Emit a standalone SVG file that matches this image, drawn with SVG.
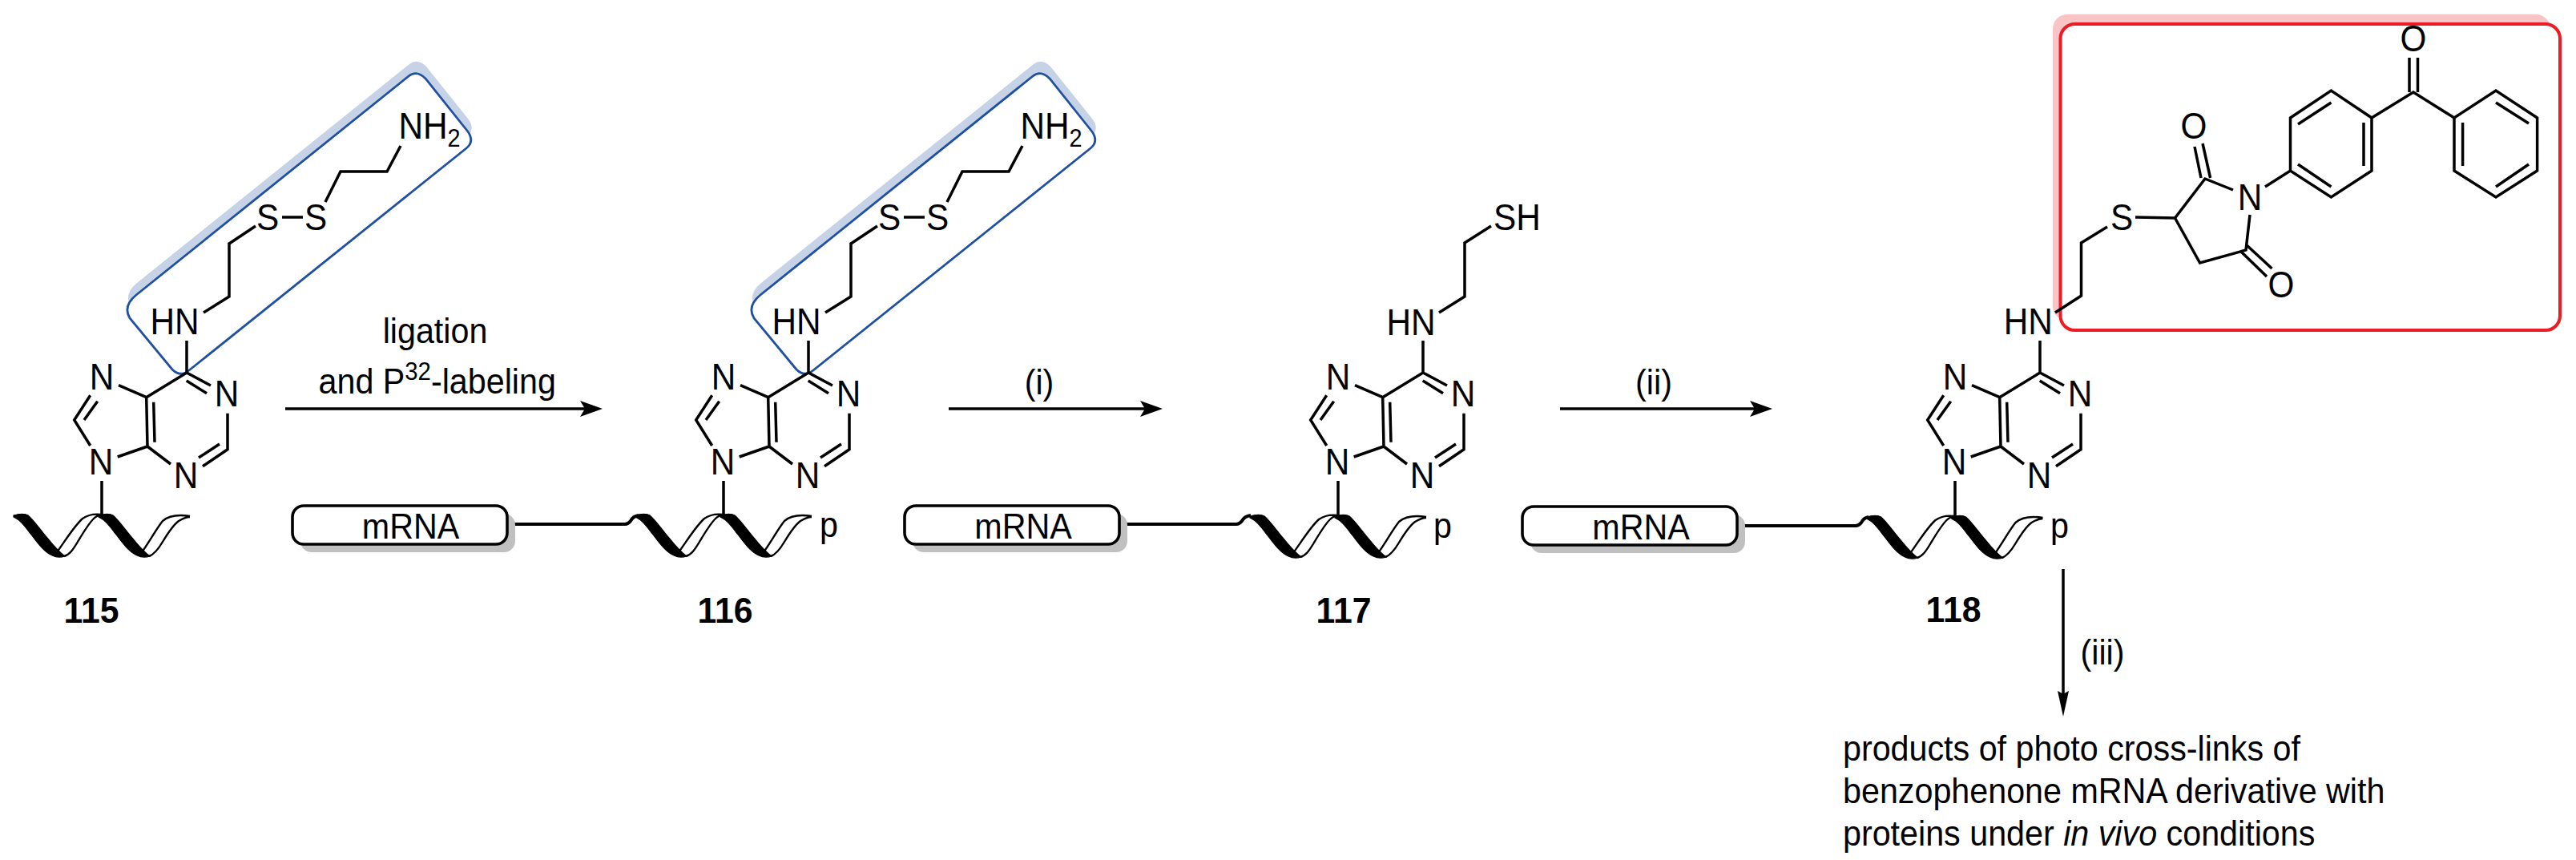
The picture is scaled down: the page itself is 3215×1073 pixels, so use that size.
<svg xmlns="http://www.w3.org/2000/svg" xmlns:xlink="http://www.w3.org/1999/xlink" width="3215" height="1073" viewBox="0 0 3215 1073">
<style>
text{font-family:"Liberation Sans",Arial,sans-serif;fill:#000}
.a{font-size:47px;text-anchor:middle}
.s{font-size:47px}
.l{font-size:45px}
.m{font-size:45px;text-anchor:middle}
.b{font-size:45px;font-weight:bold;text-anchor:middle}
.bond,.bond path,.conn{fill:none;stroke:#000;stroke-width:3.5;stroke-linejoin:miter;stroke-linecap:butt}
.strand{fill:none;stroke:#000;stroke-width:2.4}
.thick{fill:#000;stroke:#000;stroke-width:1.2}
.pill{fill:#fff;stroke:#000;stroke-width:3.6}
.pshadow{fill:#c0c0c0}
.blue{fill:#fff;stroke:#2050a0;stroke-width:2.8}
.blues{fill:#c6d2e6}
</style>
<defs>
<marker id="head" markerUnits="userSpaceOnUse" markerWidth="28" markerHeight="20" refX="6" refY="10" orient="auto"><path d="M28,10 L0,0 L6,10 L0,20 Z" fill="#000"/></marker>
<marker id="headv" markerUnits="userSpaceOnUse" markerWidth="32" markerHeight="14" refX="4" refY="7" orient="auto"><path d="M32,7 L0,0 L4,7 L0,14 Z" fill="#000"/></marker>
<path id="boxshape" d="M170,368 L510,95 Q520,87 531,98 L583,163 Q593,176 582,185 L236,462 Q225,471 215,461 L162,397 Q153,382 170,368 Z"/>
<g id="ribbon">
<path class="thick" id="t1" d="M-110,1 C-103,-1 -97,-2 -92,1 C-86,6 -78,17 -69,28 C-61,38 -53,47 -46,52 C-52,54 -58,53 -62,51 C-73,46 -81,34 -88,25 C-95,16 -101,7 -110,3 Z"/>
<use href="#t1" xlink:href="#t1" x="106"/>
<path class="strand" d="M-56,47 C-45,32 -35,15 -24,5 C-17,0 -8,-1 0,0 M-47,52 C-40,50 -36,44 -30,34 C-24,24 -17,12 -10,5 C-7,2 -3,0 0,1 M50,47 C60,33 68,18 76,8 C84,1 97,0 110,2 M59,52 C65,50 70,44 76,34 C82,24 88,14 96,8 C101,5 106,3 110,3"/>
</g>
<g id="purine" class="bond">
<path d="M233,425 V465 M263,481 L233,465 L182.7,495.7 L184,557 L213,579 M232.7,475 L258,490.7 M284,515.7 V560.7 L253,581.7 M274,554 L248,571 M191.7,501.7 L193,551.7 M182.7,495.7 L148,480.7 M112.7,493.3 L92.7,524 L112.7,556 M121.7,500.7 L105,524 M184,557 L146.7,570 M127,600 V645"/>
</g>
<g id="disulfide" class="bond">
<path d="M254,390 L286,370 V304 L319,282 M352,271 H378 M406,252 L425,214 H483 L500,182"/>
</g>
<g id="pillshape"><rect class="pshadow" x="10" y="10" width="268" height="48" rx="14"/><rect class="pill" x="0" y="0" width="268" height="48" rx="14"/></g>
</defs>
<rect width="3215" height="1073" fill="#fff"/>

<g id="connectors">
<path class="conn" d="M356,510 H730" marker-end="url(#head)"/>
<path class="conn" d="M1184,510 H1429" marker-end="url(#head)"/>
<path class="conn" d="M1947,510 H2190" marker-end="url(#head)"/>
<path class="conn" d="M2575,710 V866" marker-end="url(#headv)"/>
<path class="conn" style="stroke-width:4" d="M633,654 H780 Q784,654 787,650 Q790,644 797,643"/>
<path class="conn" style="stroke-width:4" d="M1397,654 H1543 Q1547,654 1550,650 Q1553,644 1561,643"/>
<path class="conn" style="stroke-width:4" d="M2168,656 H2316 Q2320,656 2323,652 Q2326,646 2332,645"/>
</g>

<g id="node-115">
<use href="#boxshape" xlink:href="#boxshape" class="blues" x="1" y="-15"/>
<use href="#boxshape" xlink:href="#boxshape" class="blue"/>
<use href="#purine" xlink:href="#purine"/>
<use href="#disulfide" xlink:href="#disulfide"/>
<use href="#ribbon" xlink:href="#ribbon" x="127" y="642"/>
<text class="s" transform="translate(187.5,417.3) scale(.9,1)">HN</text>
<text class="a" transform="translate(334,287) scale(.9,1)">S</text>
<text class="a" transform="translate(394,287) scale(.9,1)">S</text>
<text class="s" transform="translate(497.5,173.3) scale(.9,1)">NH<tspan font-size="32" dy="9.4">2</tspan></text>
<text class="a" transform="translate(127,486) scale(.9,1)">N</text>
<text class="a" transform="translate(283,507) scale(.9,1)">N</text>
<text class="a" transform="translate(232,609) scale(.9,1)">N</text>
<text class="a" transform="translate(126,591.7) scale(.9,1)">N</text>
<text class="b" transform="translate(114,777) scale(.95,1)">115</text>
</g>

<g id="reagent-ligation">
<text class="m" transform="translate(543,428) scale(.917,1)">ligation</text>
<text class="l" transform="translate(397.5,491) scale(.917,1)">and P<tspan font-size="32" dy="-17">32</tspan><tspan dy="17">-labeling</tspan></text>
</g>

<g id="node-116">
<use href="#boxshape" xlink:href="#boxshape" class="blues" x="780" y="-15"/>
<use href="#boxshape" xlink:href="#boxshape" class="blue" x="779"/>
<use href="#purine" xlink:href="#purine" x="776"/>
<use href="#disulfide" xlink:href="#disulfide" x="776"/>
<use href="#pillshape" xlink:href="#pillshape" x="365" y="631"/>
<text class="m" transform="translate(512.5,672) scale(.917,1)">mRNA</text>
<use href="#ribbon" xlink:href="#ribbon" x="903" y="642"/>
<text class="s" transform="translate(963.5,417.3) scale(.9,1)">HN</text>
<text class="a" transform="translate(1110,287) scale(.9,1)">S</text>
<text class="a" transform="translate(1170,287) scale(.9,1)">S</text>
<text class="s" transform="translate(1273.5,173.3) scale(.9,1)">NH<tspan font-size="32" dy="9.4">2</tspan></text>
<text class="a" transform="translate(903,486) scale(.9,1)">N</text>
<text class="a" transform="translate(1059,507) scale(.9,1)">N</text>
<text class="a" transform="translate(1008,609) scale(.9,1)">N</text>
<text class="a" transform="translate(902,591.7) scale(.9,1)">N</text>
<text class="l" transform="translate(1023,670) scale(.917,1)">p</text>
<text class="b" transform="translate(905,777) scale(.95,1)">116</text>
</g>

<text id="reagent-i" class="m" transform="translate(1297,492) scale(.917,1)">(i)</text>

<g id="node-117">
<use href="#purine" xlink:href="#purine" x="1543"/>
<path class="bond" d="M1796,390 L1828,370 V303 L1861,282"/>
<use href="#pillshape" xlink:href="#pillshape" x="1129" y="631"/>
<text class="m" transform="translate(1277,672) scale(.917,1)">mRNA</text>
<use href="#ribbon" xlink:href="#ribbon" x="1670" y="643"/>
<text class="s" transform="translate(1730.5,418) scale(.9,1)">HN</text>
<text class="s" transform="translate(1864,286.5) scale(.9,1)">SH</text>
<text class="a" transform="translate(1670,486) scale(.9,1)">N</text>
<text class="a" transform="translate(1826,507) scale(.9,1)">N</text>
<text class="a" transform="translate(1775,609) scale(.9,1)">N</text>
<text class="a" transform="translate(1669,591.7) scale(.9,1)">N</text>
<text class="l" transform="translate(1789,671) scale(.917,1)">p</text>
<text class="b" transform="translate(1677,777) scale(.95,1)">117</text>
</g>

<text id="reagent-ii" class="m" transform="translate(2064,492) scale(.917,1)">(ii)</text>

<g id="node-118">
<rect x="2562" y="18" width="621" height="382" rx="18" fill="#f8c4c6"/>
<rect x="2571.5" y="30" width="623.5" height="382" rx="18" fill="#fff" stroke="#ed1c24" stroke-width="4"/>
<use href="#purine" xlink:href="#purine" x="2313"/>
<path class="bond" d="M2565,390 L2597.5,369 V303 L2630,283 M2665,271 L2714.5,272 L2752,223 L2787,237 M2808,268 L2803,312 L2745.6,328 L2714.5,272 M2739,183 L2747,222 M2749,179 L2758.6,222 M2803,305 L2835.5,335 M2796,313 L2829,345 M2827,233 L2858.5,213 L2909.4,246 L2960,213 V147 L2909.4,113 L2858.5,147 V213 M2868,205 L2909.4,233 M2950,207 V153 M2868,155 L2909.4,128 M2960,147 L3012,115 L3063,147 L3115,113 L3166.6,147 V213 L3115,246 L3063,213 V147 M3007,115 V72 M3017.5,115 V72 M3115,128 L3156,154 M3156,205 L3115,233 M3073.6,207 V153"/>
<use href="#pillshape" xlink:href="#pillshape" x="1900" y="632"/>
<text class="m" transform="translate(2048,673) scale(.917,1)">mRNA</text>
<use href="#ribbon" xlink:href="#ribbon" x="2439.5" y="644"/>
<text class="s" transform="translate(2500.7,417) scale(.9,1)">HN</text>
<text class="a" transform="translate(2648,287) scale(.9,1)">S</text>
<text class="a" transform="translate(2808,262) scale(.9,1)">N</text>
<text class="a" transform="translate(2738,173) scale(.9,1)">O</text>
<text class="a" transform="translate(2847,371) scale(.9,1)">O</text>
<text class="a" transform="translate(3012,64) scale(.9,1)">O</text>
<text class="a" transform="translate(2440,486) scale(.9,1)">N</text>
<text class="a" transform="translate(2596,507) scale(.9,1)">N</text>
<text class="a" transform="translate(2545,609) scale(.9,1)">N</text>
<text class="a" transform="translate(2439,591.7) scale(.9,1)">N</text>
<text class="l" transform="translate(2559,671) scale(.917,1)">p</text>
<text class="b" transform="translate(2438,776) scale(.95,1)">118</text>
</g>

<text id="reagent-iii" class="m" transform="translate(2624,829) scale(.917,1)">(iii)</text>

<g id="products">
<text class="l" transform="translate(2300,948.5) scale(.917,1)">products of photo cross-links of</text>
<text class="l" transform="translate(2300,1001.5) scale(.917,1)">benzophenone mRNA derivative with</text>
<text class="l" transform="translate(2300,1054.5) scale(.917,1)">proteins under <tspan font-style="italic">in vivo</tspan> conditions</text>
</g>
</svg>
